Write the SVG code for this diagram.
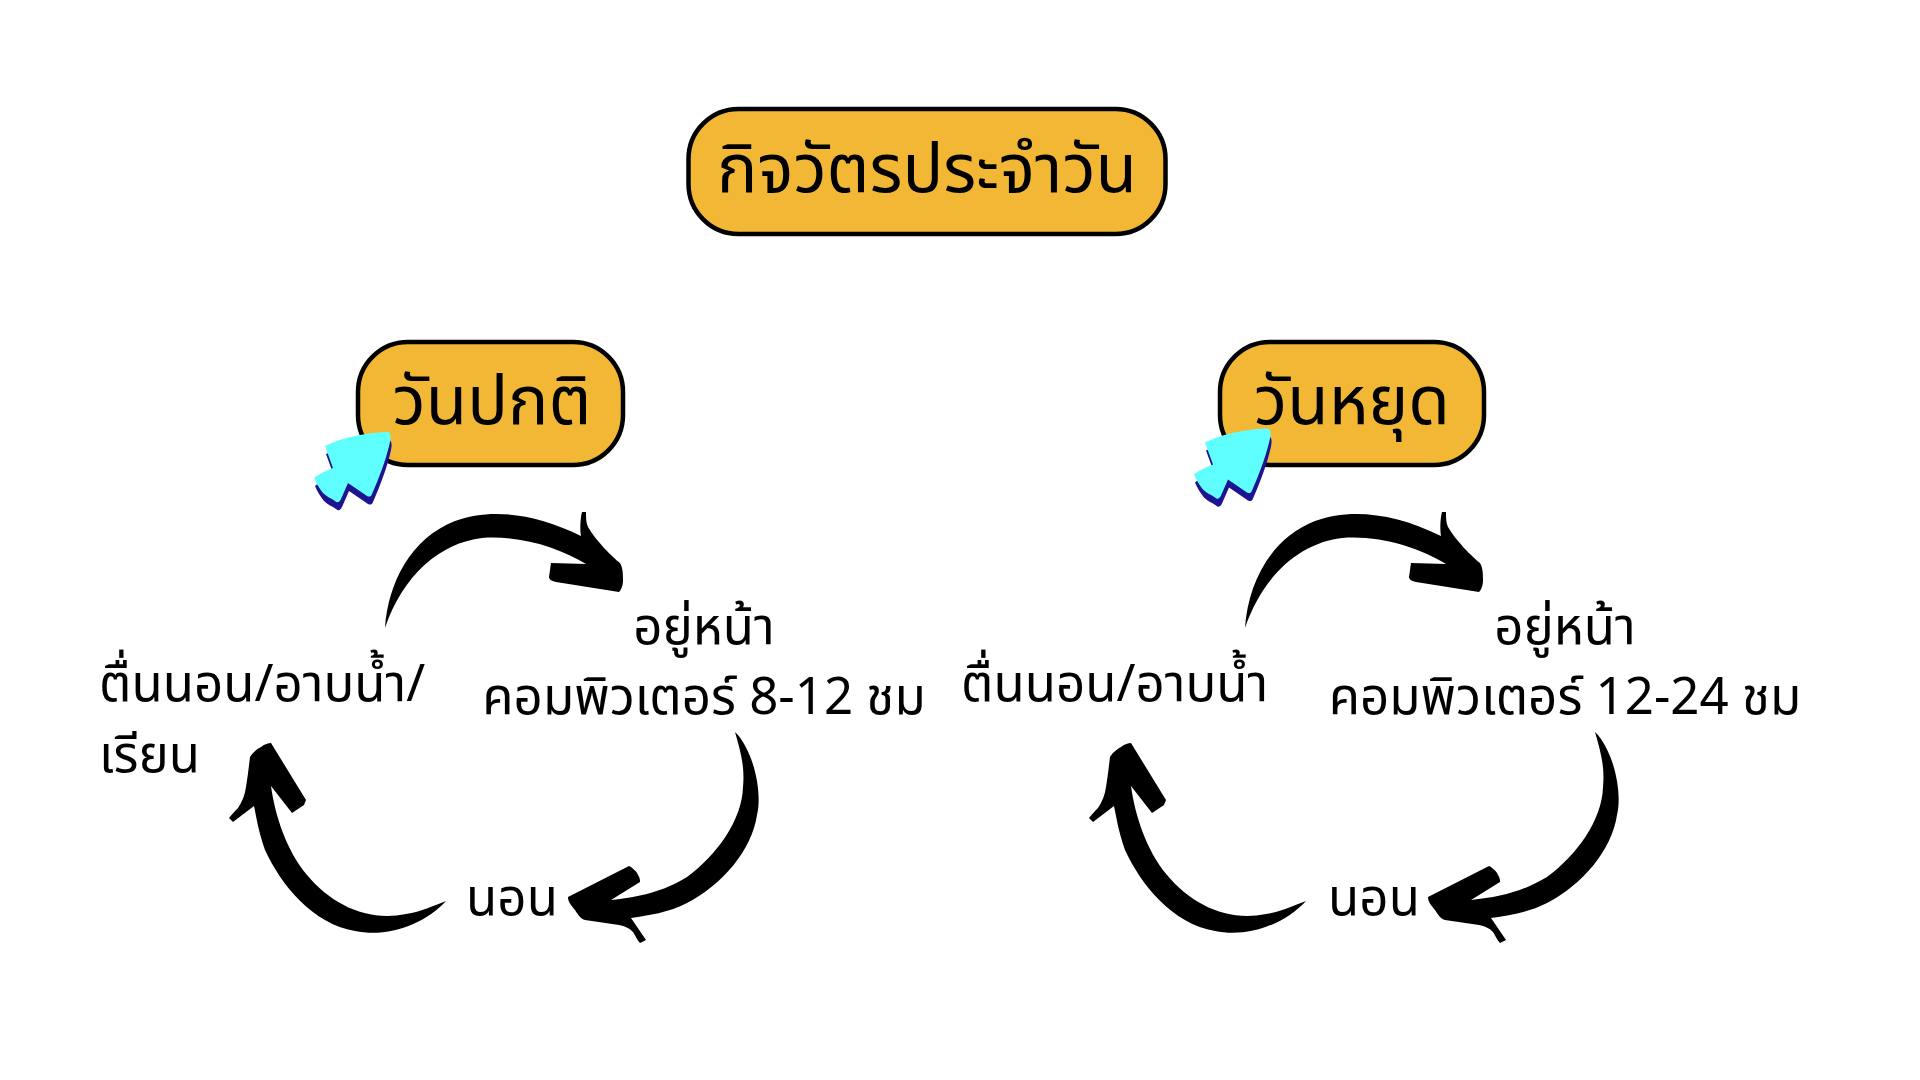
<svg xmlns="http://www.w3.org/2000/svg" width="1920" height="1080" viewBox="0 0 1920 1080">
<style>
text{font-family:"Noto Sans Thai","Noto Sans","Liberation Sans",sans-serif;fill:#000}
.pill{fill:#f2b835;stroke:#000;stroke-width:4.5}
.t{font-size:67.5px;text-anchor:middle}
.l{font-size:51px}
.c{text-anchor:middle}
.arr{fill:#000}
</style>
<defs>
<path id="a1" d="M385 628C388 583 411 538 455 521C490 508 535 513 581 536C580 530 580 520 582 512L586 512C586 518 586 523 588 527C592 534 597 540 604 548C611 555 616 560 620 563C623 568 623 575 623 580C623 586 621 590 619 592L556 582C551 581 549 579 549 577L551 563L586 564C560 548 520 535 482 538C440 543 403 575 385 628Z"/>
<path id="a2" d="M735 732C752 748 763 790 757 815C752 850 722 885 687 903C667 913 650 915 631 918L646 940L640 943C637 940 635 935 633 932C629 928 625 926 619 925L585 920C581 919 578 915 575 910C571 905 568 902 568 897L629 866C633 868 637 872 638 875C640 878 640 880 640 882L611 900C640 897 662 892 687 877C717 855 742 820 743 787C745 765 740 750 735 732Z"/>
<path id="a3" d="M446 901C425 924 388 938 355 931C313 924 281 885 265 850C258 830 256 815 254 806L233 822L229 818C232 814 235 811 238 808C242 802 245 795 246 787C248 775 249 765 250 757C253 752 257 749 261 747C265 744 268 743 271 743L306 800L304 805L292 813L271 786C275 815 286 850 307 875C332 905 368 922 406 914C421 912 435 905 446 901Z"/>
<path id="cur" d="M388 432C391 433 391 437 390 442C386 460 379 478 372 494C371 497 369 497 367 496L348 483L341 499C339 503 337 503 335 501C331 498 327 497 323 493C319 488 316 483 314 478C320 473 326 471 333 468L325 446C337 440 349 437 360 435C370 433 380 432 388 432Z"/>
</defs>
<rect width="1920" height="1080" fill="#fff"/>
<g id="connectors" class="arr">
<use href="#a1"/><use href="#a2"/><use href="#a3"/>
<use href="#a1" x="860"/><use href="#a2" x="860"/><use href="#a3" x="860"/>
</g>
<g id="title"><rect class="pill" x="688.5" y="109" width="477" height="125" rx="50"/><text class="t" x="927" y="192">กิจวัตรประจำวัน</text></g>
<g id="weekday"><rect class="pill" x="358" y="342" width="265" height="123" rx="50"/><text class="t" x="492" y="424">วันปกติ</text></g>
<g id="holiday"><rect class="pill" x="1220" y="342" width="264" height="123" rx="50"/><text class="t" x="1352" y="424">วันหยุด</text></g>
<g id="cursor-left"><use href="#cur" fill="#1c1490" x="1" y="8"/><use href="#cur" fill="#5fffff"/></g>
<g id="cursor-right"><use href="#cur" transform="translate(880,-3.5)" fill="#1c1490" x="1" y="8"/><use href="#cur" transform="translate(880,-3.5)" fill="#5fffff"/></g>
<g id="wake-left"><text class="l" x="99" y="701">ตื่นนอน/อาบน้ำ/</text><text class="l" x="99" y="772">เรียน</text></g>
<g id="screen-left"><text class="l c" x="704" y="644">อยู่หน้า</text><text class="l c" x="704" y="714">คอมพิวเตอร์ 8-12 ชม</text></g>
<g id="sleep-left"><text class="l c" x="512" y="915">นอน</text></g>
<g id="wake-right"><text class="l" x="961" y="701">ตื่นนอน/อาบน้ำ</text></g>
<g id="screen-right"><text class="l c" x="1565" y="644">อยู่หน้า</text><text class="l c" x="1565" y="714">คอมพิวเตอร์ 12-24 ชม</text></g>
<g id="sleep-right"><text class="l c" x="1374" y="915">นอน</text></g>
</svg>
